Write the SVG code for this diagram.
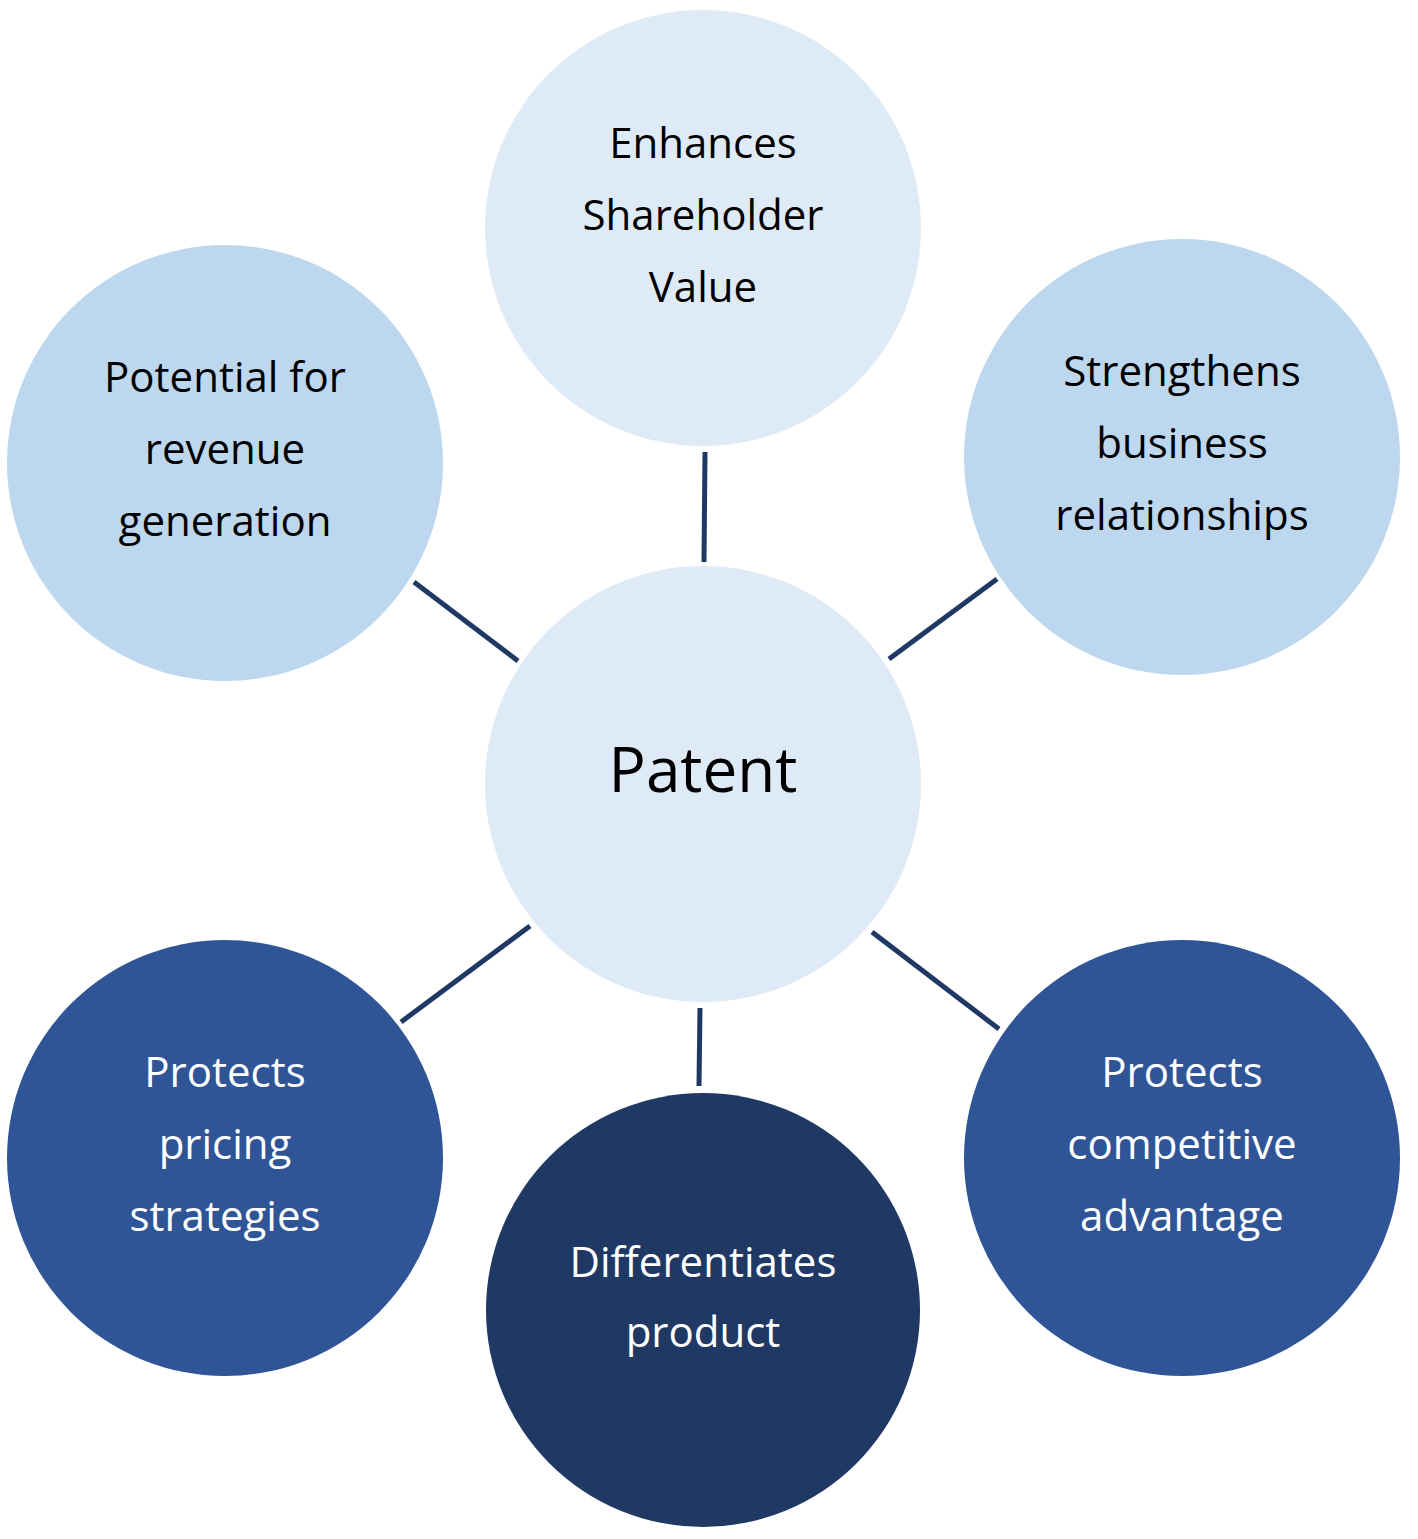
<svg xmlns="http://www.w3.org/2000/svg" width="1418" height="1539" viewBox="0 0 1418 1539">
<style>
text{font-family:"Open Sans","Liberation Sans",sans-serif;font-size:42px;text-anchor:middle}
.d{fill:#000}.w{fill:#fff}
.c line{stroke:#1F3864;stroke-width:5}
</style>
<rect width="1418" height="1539" fill="#fff"/>
<g class="c" id="connectors">
<line x1="705" y1="452" x2="704" y2="562"/>
<line x1="414" y1="582" x2="518" y2="661"/>
<line x1="997" y1="579" x2="889" y2="659"/>
<line x1="530" y1="926" x2="401" y2="1022"/>
<line x1="872" y1="932" x2="999" y2="1029"/>
<line x1="700" y1="1008" x2="699" y2="1086"/>
</g>
<g id="top"><circle cx="703" cy="228" r="218" fill="#DEEAF6"/>
<text class="d" x="703" y="158">Enhances</text><text class="d" x="703" y="230">Shareholder</text><text class="d" x="703" y="302">Value</text></g>
<g id="center"><circle cx="703" cy="784" r="218" fill="#DEEAF6"/>
<text class="d" x="703" y="792" style="font-size:62px">Patent</text></g>
<g id="tl"><circle cx="225" cy="463" r="218" fill="#BDD7EE"/>
<text class="d" x="225" y="392">Potential for</text><text class="d" x="225" y="464">revenue</text><text class="d" x="225" y="536">generation</text></g>
<g id="tr"><circle cx="1182" cy="457" r="218" fill="#BDD7EE"/>
<text class="d" x="1182" y="386">Strengthens</text><text class="d" x="1182" y="458">business</text><text class="d" x="1182" y="530">relationships</text></g>
<g id="bl"><circle cx="225" cy="1158" r="218" fill="#2F5597"/>
<text class="w" x="225" y="1087">Protects</text><text class="w" x="225" y="1159">pricing</text><text class="w" x="225" y="1231">strategies</text></g>
<g id="br"><circle cx="1182" cy="1158" r="218" fill="#2F5597"/>
<text class="w" x="1182" y="1087">Protects</text><text class="w" x="1182" y="1159">competitive</text><text class="w" x="1182" y="1231">advantage</text></g>
<g id="bottom"><circle cx="703" cy="1310" r="217" fill="#203864"/>
<text class="w" x="703" y="1277">Differentiates</text><text class="w" x="703" y="1347">product</text></g>
</svg>
